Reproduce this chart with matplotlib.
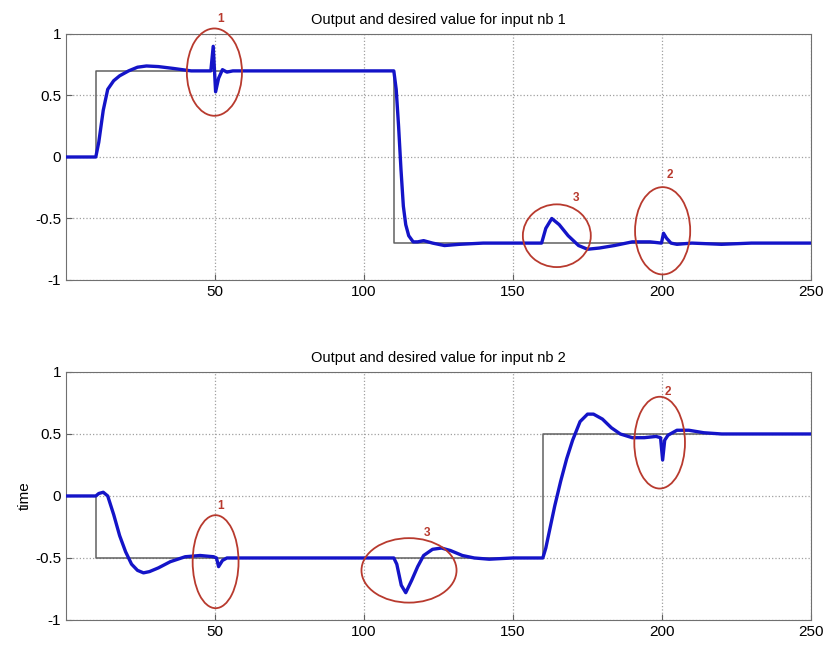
import numpy as np
import matplotlib.pyplot as plt
from matplotlib.patches import Ellipse

plt.rcParams['font.family'] = ['Liberation Sans', 'DejaVu Sans']

# desired values (step signals)
ref1_t = [0, 10, 10, 110, 110, 250]
ref1_y = [0, 0, 0.7, 0.7, -0.7, -0.7]
ref2_t = [0, 10, 10, 160, 160, 250]
ref2_y = [0, 0, -0.5, -0.5, 0.5, 0.5]

# output, input nb 1
out1_t = [0, 10, 11, 12.5, 14, 16, 18, 21, 24, 27, 31, 36, 42, 48.6, 49.4, 50.2, 51.2, 52.5, 54, 56, 60,
          80, 110, 110.8, 111.6, 112.4, 113.2, 114, 115, 116.5, 118, 120, 123, 127, 132, 140, 150, 159.6,
          161, 163, 165.5, 168.5, 172, 175, 179, 184, 190, 196, 199.8, 200.5, 201.5, 203, 205, 210,
          220, 230, 250]
out1_y = [0, 0, 0.12, 0.38, 0.55, 0.62, 0.66, 0.7, 0.73, 0.74, 0.735, 0.72, 0.7, 0.7, 0.9, 0.53, 0.64,
          0.71, 0.69, 0.7, 0.7, 0.7, 0.7, 0.55, 0.25, -0.1, -0.4, -0.55, -0.64, -0.69, -0.69, -0.68, -0.7,
          -0.72, -0.71, -0.7, -0.7, -0.7, -0.58, -0.5, -0.55, -0.64, -0.72, -0.75, -0.74, -0.72,
          -0.69, -0.69, -0.7, -0.62, -0.66, -0.7, -0.71, -0.7, -0.71, -0.7, -0.7]

# output, input nb 2
out2_t = [0, 10, 11, 12.5, 14, 16, 18, 20, 22, 24, 26, 28, 31, 35, 40, 45, 49.5, 50.5, 51.2, 52.5, 54, 60,
          80, 110, 111, 112.5, 114, 116, 118, 120, 123, 126, 129, 133, 137, 142, 150, 160, 161, 162.5,
          164, 166, 168, 170, 172.5, 175, 177, 180, 183, 186, 190, 194, 198, 199.5, 200.2, 200.9, 202,
          205, 209, 214, 220, 230, 250]
out2_y = [0, 0, 0.02, 0.03, 0.0, -0.15, -0.32, -0.45, -0.55, -0.6, -0.62, -0.61, -0.58, -0.53, -0.49,
          -0.48, -0.49, -0.5, -0.57, -0.52, -0.5, -0.5, -0.5, -0.5, -0.55, -0.72, -0.78, -0.68, -0.57,
          -0.48, -0.43, -0.42, -0.44, -0.48, -0.5, -0.51, -0.5, -0.5, -0.42, -0.25, -0.08, 0.12, 0.3,
          0.45, 0.6, 0.66, 0.66, 0.62, 0.55, 0.5, 0.47, 0.47, 0.48, 0.47, 0.29, 0.45, 0.49, 0.53, 0.53,
          0.51, 0.5, 0.5, 0.5]

# annotation circles: centre t, centre y, width, height, label, label t, label y
marks1 = [(49.8, 0.69, 18.5, 0.71, '1', 52, 1.12),
          (164.7, -0.64, 22.8, 0.51, '3', 171, -0.33),
          (200.2, -0.6, 18.5, 0.71, '2', 202.5, -0.15)]
marks2 = [(50.2, -0.53, 15.4, 0.75, '1', 52, -0.08),
          (115.1, -0.6, 31.9, 0.52, '3', 121, -0.3),
          (199.2, 0.43, 17.0, 0.74, '2', 202, 0.84)]

fig = plt.figure(figsize=(8.27, 6.45), dpi=100)
ax1 = fig.add_axes([0.0798, 0.5659, 0.9009, 0.3814])
ax2 = fig.add_axes([0.0798, 0.0388, 0.9009, 0.3845])

red = '#b83a2e'
panels = [(ax1, ref1_t, ref1_y, out1_t, out1_y, marks1, 'Output and desired value for input nb 1'),
          (ax2, ref2_t, ref2_y, out2_t, out2_y, marks2, 'Output and desired value for input nb 2')]

for ax, rt, ry, ot, oy, marks, title in panels:
    ax.plot(rt, ry, color='#606060', lw=1.1, zorder=2)
    ax.plot(ot, oy, color='#1414c8', lw=2.4, zorder=3)
    for cx, cy, w, h, lab, lx, ly in marks:
        ax.add_patch(Ellipse((cx, cy), w, h, fill=False, ec=red, lw=1.3, zorder=4, clip_on=False))
        ax.text(lx, ly, lab, color=red, fontsize=8.5, fontweight='bold', ha='center', va='center',
                clip_on=False)
    ax.set_xlim(0, 250)
    ax.set_ylim(-1, 1)
    ax.set_xticks([50, 100, 150, 200, 250])
    ax.set_yticks([-1, -0.5, 0, 0.5, 1])
    ax.set_yticklabels(['-1', '-0.5', '0', '0.5', '1'])
    ax.grid(True, ls=':', color='#a0a0a0', lw=0.9)
    ax.tick_params(direction='in', labelsize=11, length=4, color='#606060')
    for s in ax.spines.values():
        s.set_color('#707070')
    ax.set_title(title, fontsize=10.5, pad=7)

ax2.set_ylabel('time', fontsize=11, labelpad=2)

fig.savefig('out.png', dpi=100)
